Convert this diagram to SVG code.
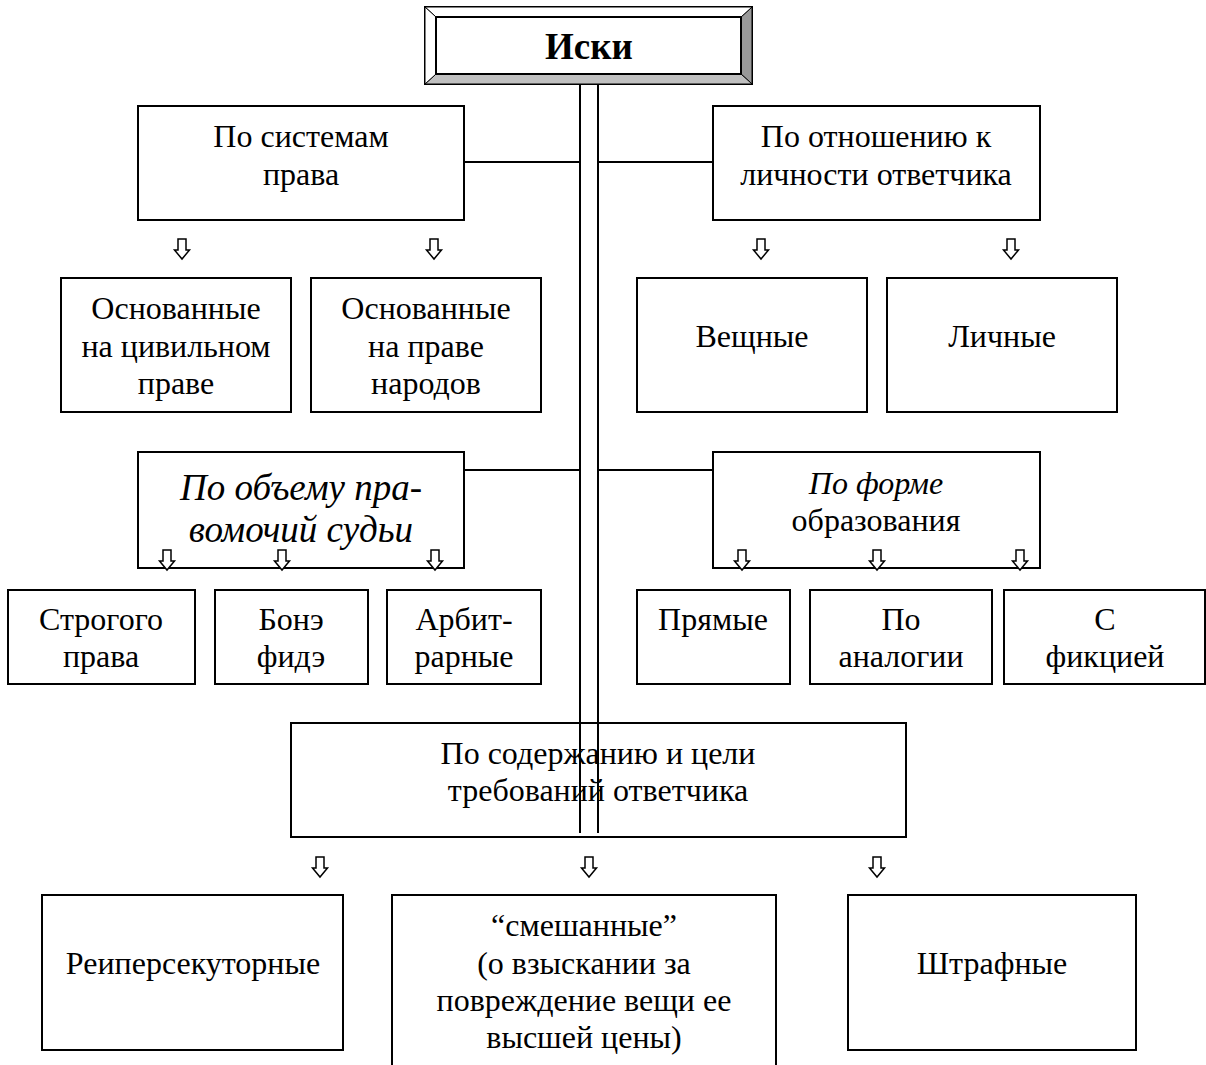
<svg xmlns="http://www.w3.org/2000/svg" width="1206" height="1065" viewBox="0 0 1206 1065">
<style>
.b{fill:#fff;stroke:#000;stroke-width:2}
.t{font-family:"Liberation Serif","Times New Roman",serif;font-size:32px;fill:#000;text-anchor:middle}
.i{font-style:italic}
.ln{stroke:#000;stroke-width:2;fill:none}
.ar{fill:#fff;stroke:#000;stroke-width:1.5}
</style>
<defs>
<path id="arr" class="ar" d="M-4,-20 H4 V-9 H7.5 L0,0 L-7.5,-9 H-4 Z"/>
</defs>
<rect width="1206" height="1065" fill="#fff"/>

<g id="connectors">
<line class="ln" x1="580" y1="84" x2="580" y2="833"/>
<line class="ln" x1="598" y1="84" x2="598" y2="833"/>
<line class="ln" x1="464" y1="162" x2="580" y2="162"/>
<line class="ln" x1="598" y1="162" x2="713" y2="162"/>
<line class="ln" x1="464" y1="470" x2="580" y2="470"/>
<line class="ln" x1="598" y1="470" x2="713" y2="470"/>
</g>

<g id="root">
<rect x="425" y="7" width="327" height="77" fill="#fff" stroke="#000" stroke-width="2"/>
<polygon points="752,7 752,84 741,74 741,17" fill="#999" stroke="#000" stroke-width="1"/>
<polygon points="425,84 752,84 741,74 436,74" fill="#c0c0c0" stroke="#000" stroke-width="1"/>
<polygon points="425,7 752,7 741,17 436,17" fill="#fff" stroke="#000" stroke-width="1"/>
<polygon points="425,7 436,17 436,74 425,84" fill="#fff" stroke="#000" stroke-width="1"/>
<rect x="436" y="17" width="305" height="57" fill="#fff" stroke="#000" stroke-width="2"/>
<text class="t" x="589" y="59" style="font-size:37px;font-weight:bold">Иски</text>
</g>

<g id="n-systems">
<rect class="b" x="138" y="106" width="326" height="114"/>
<text class="t" x="301" y="147">По системам</text>
<text class="t" x="301" y="185">права</text>
<use href="#arr" x="182" y="259"/>
<use href="#arr" x="434" y="259"/>
</g>
<g id="n-person">
<rect class="b" x="713" y="106" width="327" height="114"/>
<text class="t" x="876" y="147">По отношению к</text>
<text class="t" x="876" y="185">личности ответчика</text>
<use href="#arr" x="761" y="259"/>
<use href="#arr" x="1011" y="259"/>
</g>

<g id="n-civil">
<rect class="b" x="61" y="278" width="230" height="134"/>
<text class="t" x="176" y="319">Основанные</text>
<text class="t" x="176" y="357">на цивильном</text>
<text class="t" x="176" y="394">праве</text>
</g>
<g id="n-gentium">
<rect class="b" x="311" y="278" width="230" height="134"/>
<text class="t" x="426" y="319">Основанные</text>
<text class="t" x="426" y="357">на праве</text>
<text class="t" x="426" y="394">народов</text>
</g>
<g id="n-real">
<rect class="b" x="637" y="278" width="230" height="134"/>
<text class="t" x="752" y="347">Вещные</text>
</g>
<g id="n-personal">
<rect class="b" x="887" y="278" width="230" height="134"/>
<text class="t" x="1002" y="347">Личные</text>
</g>

<g id="n-judge">
<rect class="b" x="138" y="452" width="326" height="116"/>
<text class="t i" x="301" y="500" style="font-size:37px">По объему пра-</text>
<text class="t i" x="301" y="542" style="font-size:37px">вомочий судьи</text>
<use href="#arr" x="167" y="570"/>
<use href="#arr" x="282" y="570"/>
<use href="#arr" x="435" y="570"/>
</g>
<g id="n-form">
<rect class="b" x="713" y="452" width="327" height="116"/>
<text class="t i" x="876" y="494">По форме</text>
<text class="t" x="876" y="531">образования</text>
<use href="#arr" x="742" y="570"/>
<use href="#arr" x="877" y="570"/>
<use href="#arr" x="1020" y="570"/>
</g>

<g id="n-strict">
<rect class="b" x="8" y="590" width="187" height="94"/>
<text class="t" x="101" y="630">Строгого</text>
<text class="t" x="101" y="667">права</text>
</g>
<g id="n-bona">
<rect class="b" x="215" y="590" width="153" height="94"/>
<text class="t" x="291" y="630">Бонэ</text>
<text class="t" x="291" y="667">фидэ</text>
</g>
<g id="n-arb">
<rect class="b" x="387" y="590" width="154" height="94"/>
<text class="t" x="464" y="630">Арбит-</text>
<text class="t" x="464" y="667">рарные</text>
</g>
<g id="n-direct">
<rect class="b" x="637" y="590" width="153" height="94"/>
<text class="t" x="713" y="630">Прямые</text>
</g>
<g id="n-analog">
<rect class="b" x="810" y="590" width="182" height="94"/>
<text class="t" x="901" y="630">По</text>
<text class="t" x="901" y="667">аналогии</text>
</g>
<g id="n-fiction">
<rect class="b" x="1004" y="590" width="201" height="94"/>
<text class="t" x="1105" y="630">С</text>
<text class="t" x="1105" y="667">фикцией</text>
</g>

<g id="n-content">
<rect x="291" y="723" width="615" height="114" fill="none" stroke="#000" stroke-width="2"/>
<text class="t" x="598" y="764">По содержанию и цели</text>
<text class="t" x="598" y="801">требований ответчика</text>
<use href="#arr" x="320" y="877"/>
<use href="#arr" x="589" y="877"/>
<use href="#arr" x="877" y="877"/>
</g>

<g id="n-reip">
<rect class="b" x="42" y="895" width="301" height="155"/>
<text class="t" x="193" y="974">Реиперсекуторные</text>
</g>
<g id="n-mixed">
<path d="M392,1066 V895 H776 V1066" fill="#fff" stroke="#000" stroke-width="2"/>
<text class="t" x="584" y="936">“смешанные”</text>
<text class="t" x="584" y="974">(о взыскании за</text>
<text class="t" x="584" y="1011">повреждение вещи ее</text>
<text class="t" x="584" y="1048">высшей цены)</text>
</g>
<g id="n-penal">
<rect class="b" x="848" y="895" width="288" height="155"/>
<text class="t" x="992" y="974">Штрафные</text>
</g>
</svg>
